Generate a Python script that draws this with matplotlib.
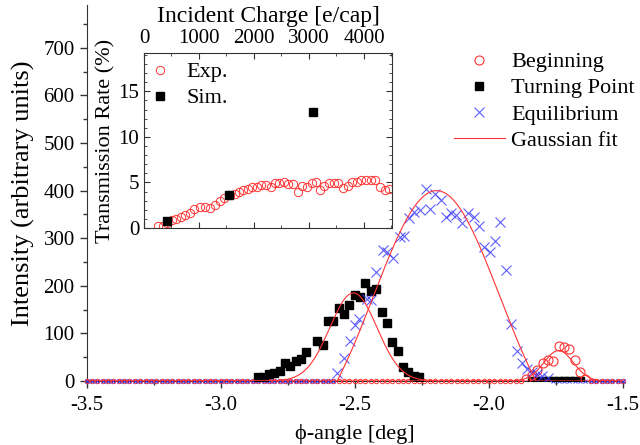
import numpy as np
import matplotlib
matplotlib.use("Agg")
import matplotlib.pyplot as plt
from matplotlib.ticker import MultipleLocator

plt.rcParams['font.family'] = ['Liberation Serif', 'DejaVu Serif']
plt.rcParams['axes.unicode_minus'] = False

# ---- main panel data (phi in deg, intensity in arb. units) ----
phi_step = 0.02

# Beginning: peak near -1.74, zero elsewhere
bg_phi = [-1.86, -1.84, -1.82, -1.80, -1.78, -1.76, -1.74, -1.72, -1.70, -1.68, -1.66, -1.64]
bg_int = [4, 12, 23, 38, 44, 42, 73, 72, 67, 45, 18, 5]
bg_zero_ranges = [(-3.50, -1.88), (-1.62, -1.50)]

# Turning point
tp_phi = [-2.86, -2.84, -2.82, -2.80, -2.78, -2.76, -2.74, -2.72, -2.70, -2.68,
          -2.64, -2.62, -2.60, -2.58, -2.56, -2.54, -2.52, -2.50, -2.48, -2.46,
          -2.44, -2.42, -2.40, -2.38, -2.36, -2.34, -2.32, -2.30, -2.28, -2.26]
tp_int = [8, 9, 15, 16, 22, 38, 32, 41, 46, 60,
          85, 76, 127, 127, 153, 141, 160, 181, 176, 205,
          190, 193, 146, 121, 81, 64, 30, 18, 10, 8]
tp_zero_ranges = [(-1.84, -1.66)]

# Equilibrium
eq_phi = [-2.566, -2.539, -2.519, -2.498, -2.483, -2.454, -2.440, -2.420, -2.395, -2.378,
          -2.357, -2.333, -2.318, -2.296, -2.278, -2.258, -2.234, -2.218, -2.200, -2.178,
          -2.159, -2.140, -2.121, -2.100, -2.078, -2.057, -2.037, -2.017, -1.997, -1.978,
          -1.957, -1.937, -1.917, -1.897, -1.876, -1.857, -1.839, -1.820, -1.801, -1.780]
eq_int = [16, 48, 83, 118, 130, 172, 170, 230, 275, 270,
          258, 303, 305, 342, 356, 359, 403, 361, 393, 380,
          345, 354, 349, 331, 352, 344, 326, 281, 272, 295,
          335, 233, 120, 62, 37, 25, 18, 15, 10, 6]
eq_zero_ranges = [(-3.50, -2.58), (-1.76, -1.50)]

# Gaussian fit parameters: (offset, amplitude, centre, sigma)
fit_bg = (0, 64, -1.74, 0.055)
fit_tp = (0, 185, -2.505, 0.088)
fit_eq = (-162, 562, -2.195, 0.235)

# ---- inset data ----
exp_charge = [262, 341, 427, 506, 585, 671, 750, 829, 915, 1012, 1104, 1195, 1299, 1390,
              1463, 1561, 1646, 1726, 1805, 1890, 1970, 2049, 2134, 2213, 2305, 2384,
              2457, 2537, 2622, 2701, 2793, 2872, 2963, 3049, 3128, 3207, 3280, 3372,
              3451, 3537, 3616, 3707, 3787, 3872, 3951, 4043, 4134, 4207, 4287, 4378, 4457]
exp_rate = [0.25, 0.2, 0.54, 0.83, 0.98, 1.2, 1.45, 1.7, 2.07, 2.28, 2.28, 2.21, 2.57, 3.0,
            3.3, 3.66, 3.73, 4.0, 4.17, 4.3, 4.46, 4.53, 4.67, 4.75, 4.46, 4.9,
            4.96, 5.04, 4.82, 4.82, 4.0, 4.6, 4.53, 4.96, 5.04, 4.17, 4.6, 4.9,
            4.96, 4.9, 4.38, 4.6, 5.04, 5.1, 5.25, 5.3, 5.25, 5.25, 4.46, 4.17, 4.3]
sim_charge = [427, 1543, 3079]
sim_rate = [0.72, 3.62, 12.7]


def zero_run(ranges):
    xs = []
    for lo, hi in ranges:
        xs.extend(np.arange(lo, hi + phi_step / 2, phi_step))
    return np.array(xs)


def gauss(x, y0, a, c, s):
    return y0 + a * np.exp(-(x - c) ** 2 / (2 * s ** 2))


red = '#ff3333'
blue = '#3535ff'

fig = plt.figure(figsize=(6.4, 4.45), dpi=100)
ax = fig.add_axes([86.5 / 640, 64 / 445, 536.5 / 640, 376 / 445])

xfit = np.linspace(-3.5, -1.5, 1200)

# baseline points (small markers)
zb = zero_run(bg_zero_ranges)
ax.plot(zb, np.zeros_like(zb), 'o', ms=3.2, mfc='none', mec=red, mew=0.7, clip_on=False, zorder=3)
ze = zero_run(eq_zero_ranges)
ax.plot(ze, np.zeros_like(ze), 'x', ms=3.2, color=blue, mew=0.7, clip_on=False, zorder=3)
zt = zero_run(tp_zero_ranges)
ax.plot(zt, np.zeros_like(zt), 's', ms=6, color='black', zorder=3)

# peaks
ax.plot(bg_phi, bg_int, 'o', ms=6.5, mfc='none', mec=red, mew=0.8, label='Beginning', zorder=4)
ax.plot(tp_phi, tp_int, 's', ms=5.8, color='black', label='Turning Point', zorder=4)
ax.plot(eq_phi, eq_int, 'x', ms=6.5, color=blue, mew=0.8, alpha=0.8, label='Equilibrium', zorder=4)

ax.plot(xfit, gauss(xfit, *fit_bg), color=red, lw=0.8, label='Gaussian fit', zorder=5)
ax.plot(xfit, gauss(xfit, *fit_tp), color=red, lw=0.8, zorder=5)
ax.plot(xfit, gauss(xfit, *fit_eq), color=red, lw=0.8, zorder=5)

ax.set_xlim(-3.5, -1.5)
ax.set_ylim(0, 790)
ax.xaxis.set_major_locator(MultipleLocator(0.5))
ax.xaxis.set_minor_locator(MultipleLocator(0.25))
ax.yaxis.set_major_locator(MultipleLocator(100))
ax.yaxis.set_minor_locator(MultipleLocator(50))
ax.xaxis.set_major_formatter(plt.FuncFormatter(lambda v, p: f'{v:.1f}'))
for s in ['top', 'right']:
    ax.spines[s].set_visible(False)
for s in ['left', 'bottom']:
    ax.spines[s].set_color('#333333')
ax.tick_params(which='major', direction='out', length=5, width=1, colors='#333333',
               labelsize=15, labelcolor='black')
ax.tick_params(which='minor', direction='out', length=3, width=1, colors='#333333')
ax.tick_params(axis='x', which='major', pad=6)
ax.set_xlabel('\u03d5-angle [deg]', fontsize=16, labelpad=6)
ax.set_ylabel('Intensity (arbitrary units)', fontsize=19, labelpad=6)

leg = ax.legend(loc='upper right', bbox_to_anchor=(1.043, 0.905), frameon=False, fontsize=16,
                handlelength=2.3, handletextpad=0.3, labelspacing=0.25, borderpad=0)

# ---- inset ----
ins = fig.add_axes([144 / 640, (445 - 228) / 445, 248 / 640, 175 / 445])
ins.plot(exp_charge, exp_rate, 'o', ms=6, mfc='none', mec=red, mew=0.7, label='Exp.')
ins.plot(sim_charge, sim_rate, 's', ms=6, color='black', label='Sim.')
ins.set_xlim(0, 4510)
ins.set_ylim(0, 19.2)
ins.xaxis.set_major_locator(MultipleLocator(1000))
ins.xaxis.set_minor_locator(MultipleLocator(500))
ins.yaxis.set_major_locator(MultipleLocator(5))
ins.yaxis.set_minor_locator(MultipleLocator(1))
ins.tick_params(which='both', direction='in', top=True, bottom=True, left=True, right=True,
                labeltop=True, labelbottom=False, colors='#333333', labelcolor='black', labelsize=15)
ins.tick_params(which='major', length=4)
ins.tick_params(which='minor', length=2)
for s in ins.spines.values():
    s.set_color('#333333')
ins.xaxis.set_label_position('top')
ins.set_xlabel('Incident Charge [e/cap]', fontsize=17, labelpad=5)
ins.set_ylabel('Transmission Rate (%)', fontsize=16, labelpad=2)
ins.legend(loc='upper left', bbox_to_anchor=(0.0, 0.975), frameon=False, fontsize=16,
           handlelength=1.0, handletextpad=0.7, labelspacing=0.25, borderpad=0.2,
           borderaxespad=0.0)

fig.savefig('out.png', dpi=100)
